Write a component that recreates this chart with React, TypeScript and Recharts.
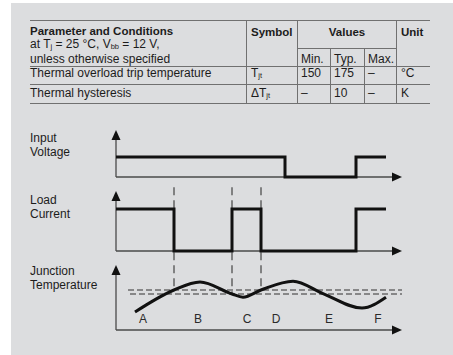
import React from 'react'
import { ComposedChart, Line, XAxis, YAxis, ReferenceLine, Scatter } from 'recharts'

// table contents
const headParam = 'Parameter and Conditions'
const headSymbol = 'Symbol'
const headValues = 'Values'
const headUnit = 'Unit'
const valueCols = ['Min.', 'Typ.', 'Max.']
const tableRows = [
  { param: 'Thermal overload trip temperature', delta: false, sub: 'jt', min: '150', typ: '175', max: '–', unit: '°C' },
  { param: 'Thermal hysteresis', delta: true, sub: 'jt', min: '–', typ: '10', max: '–', unit: 'K' },
]

// timing diagram, time in arbitrary units from the vertical axis
const inputVoltage = [
  { t: 0, v: 1 },
  { t: 169, v: 0 },
  { t: 240, v: 1 },
  { t: 270, v: 1 },
]
const loadCurrent = [
  { t: 0, v: 1 },
  { t: 58, v: 0 },
  { t: 116, v: 1 },
  { t: 145, v: 0 },
  { t: 240, v: 1 },
  { t: 270, v: 1 },
]
const junctionTemp = [
  { t: 19, temp: 120 },
  { t: 58, temp: 175 },
  { t: 84, temp: 195 },
  { t: 116, temp: 165 },
  { t: 127, temp: 157 },
  { t: 145, temp: 175 },
  { t: 177, temp: 197 },
  { t: 207, temp: 166 },
  { t: 246, temp: 130 },
  { t: 270, temp: 157 },
]
const tripTemp = 175
const hysteresis = 10
// load current switching events (time, temperature where it happens)
const switchEvents = [
  { t: 58, temp: tripTemp },
  { t: 116, temp: tripTemp - hysteresis },
  { t: 145, temp: tripTemp },
]
const phaseLabels = [
  { t: 27, label: 'A' },
  { t: 82, label: 'B' },
  { t: 131, label: 'C' },
  { t: 160, label: 'D' },
  { t: 213, label: 'E' },
  { t: 262, label: 'F' },
]
const panelLabels = [
  { lines: ['Input', 'Voltage'], y: 138 },
  { lines: ['Load', 'Current'], y: 200 },
  { lines: ['Junction', 'Temperature'], y: 271 },
]

const FONT = '"Liberation Sans", Arial, Helvetica, sans-serif'
const INK = '#1c1c1c'
const GRID = '#707070'

// y domains chosen so the three panels stack inside one plot
const vinDomain = [-7.65, 2.85]
const loadDomain = [-1.881, 3.119]
const tempDomain = [75, 600]
const X_END = 286
const DASH_TOP = 432

const Arrow = (p: any) => {
  const { x1, y1, x2, y2 } = p
  const dx = x2 - x1
  const dy = y2 - y1
  const len = Math.hypot(dx, dy) || 1
  const ux = dx / len
  const uy = dy / len
  const L = 10
  const W = 4.5
  const bx = x2 - ux * L
  const by = y2 - uy * L
  return (
    <g>
      <line x1={x1} y1={y1} x2={bx} y2={by} stroke="#4a4a4a" strokeWidth={1.3} />
      <polygon
        points={`${x2},${y2} ${bx - uy * W},${by + ux * W} ${bx + uy * W},${by - ux * W}`}
        fill="#111"
      />
    </g>
  )
}

const axes = [
  { id: 'vin', base: 0, top: 2.35 },
  { id: 'load', base: 0, top: 1.43 },
  { id: 'temp', base: 75, top: 237.5 },
]

function Txt({ x, y, children, bold, w, center }: any) {
  return (
    <div
      style={{
        position: 'absolute',
        left: center ? x - w / 2 : x,
        top: y - 6,
        width: center ? w : undefined,
        textAlign: center ? 'center' : 'left',
        lineHeight: '12px',
        fontSize: bold ? 11.5 : 12,
        fontWeight: bold ? 700 : 400,
        whiteSpace: 'nowrap',
        color: INK,
      }}
    >
      {children}
    </div>
  )
}

const Sub = ({ children }: any) => (
  <span style={{ fontSize: 7.5, lineHeight: '8px', verticalAlign: '-1px' }}>{children}</span>
)

export default function App() {
  const colX = { param: 30, symbol: 246, min: 297, typ: 330, max: 364, unit: 396, right: 430 }
  const rowY = { top: 20, sub: 48, head: 66, r1: 84, bottom: 103 }
  const rowCenters = [73, 93]

  return (
    <div
      style={{
        position: 'absolute',
        left: 0,
        top: 0,
        width: 453,
        height: 355,
        background: '#fff',
        fontFamily: FONT,
      }}
    >
      <div style={{ position: 'absolute', left: 11, top: 3, right: 0, bottom: 0, background: '#dcdddf' }} />

      <svg width={453} height={355} style={{ position: 'absolute', left: 0, top: 0 }}>
        {[rowY.top, rowY.head, rowY.r1, rowY.bottom].map((y) => (
          <line key={y} x1={colX.param} x2={colX.right} y1={y + 0.5} y2={y + 0.5} stroke={GRID} strokeWidth={1} />
        ))}
        <line x1={colX.min} x2={colX.unit} y1={rowY.sub + 0.5} y2={rowY.sub + 0.5} stroke={GRID} />
        {[colX.symbol, colX.min, colX.unit].map((x) => (
          <line key={x} x1={x + 0.5} x2={x + 0.5} y1={rowY.top} y2={rowY.bottom} stroke={GRID} />
        ))}
        {[colX.typ, colX.max].map((x) => (
          <line key={x} x1={x + 0.5} x2={x + 0.5} y1={rowY.sub} y2={rowY.bottom} stroke={GRID} />
        ))}
      </svg>

      <Txt x={30} y={31} bold>{headParam}</Txt>
      <Txt x={30} y={44}>
        at T<Sub>j</Sub> = 25 °C, V<Sub>bb</Sub> = 12 V,
      </Txt>
      <Txt x={30} y={59}>unless otherwise specified</Txt>
      <Txt x={251} y={32} bold>{headSymbol}</Txt>
      <Txt x={347} y={32} w={90} center bold>{headValues}</Txt>
      <Txt x={401} y={32} bold>{headUnit}</Txt>
      {valueCols.map((c, i) => (
        <Txt key={c} x={[301, 334, 368][i]} y={59}>{c}</Txt>
      ))}
      {tableRows.map((r, i) => (
        <React.Fragment key={r.param}>
          <Txt x={30} y={rowCenters[i]}>{r.param}</Txt>
          <Txt x={251} y={rowCenters[i]}>
            {r.delta ? 'Δ' : ''}T<Sub>{r.sub}</Sub>
          </Txt>
          <Txt x={301} y={rowCenters[i]}>{r.min}</Txt>
          <Txt x={334} y={rowCenters[i]}>{r.typ}</Txt>
          <Txt x={368} y={rowCenters[i]}>{r.max}</Txt>
          <Txt x={401} y={rowCenters[i]}>{r.unit}</Txt>
        </React.Fragment>
      ))}

      {panelLabels.map((p) =>
        p.lines.map((l, i) => (
          <Txt key={l} x={30} y={p.y + i * 14}>{l}</Txt>
        ))
      )}

      <div style={{ position: 'absolute', left: 0, top: 0 }}>
        <ComposedChart width={453} height={355} margin={{ top: 120, right: 47, bottom: 25, left: 116 }}>
          <XAxis type="number" dataKey="t" domain={[0, 290]} hide allowDataOverflow />
          <YAxis yAxisId="vin" type="number" domain={vinDomain} hide allowDataOverflow />
          <YAxis yAxisId="load" type="number" domain={loadDomain} hide allowDataOverflow />
          <YAxis yAxisId="temp" type="number" domain={tempDomain} hide allowDataOverflow />

          {axes.map((a) => (
            <ReferenceLine
              key={a.id + 'h'}
              yAxisId={a.id}
              segment={[{ x: 0, y: a.base }, { x: X_END, y: a.base }]}
              shape={Arrow}
            />
          ))}
          {axes.map((a) => (
            <ReferenceLine
              key={a.id + 'v'}
              yAxisId={a.id}
              segment={[{ x: 0, y: a.base }, { x: 0, y: a.top }]}
              shape={Arrow}
            />
          ))}

          <ReferenceLine
            yAxisId="temp"
            segment={[{ x: 12, y: tripTemp }, { x: X_END, y: tripTemp }]}
            stroke="#333"
            strokeWidth={1.2}
            strokeDasharray="6 3"
          />
          <ReferenceLine
            yAxisId="temp"
            segment={[{ x: 14, y: tripTemp - hysteresis }, { x: X_END, y: tripTemp - hysteresis }]}
            stroke="#333"
            strokeWidth={1.2}
            strokeDasharray="6 3"
          />
          {switchEvents.map((e) => (
            <ReferenceLine
              key={e.t}
              yAxisId="temp"
              segment={[{ x: e.t, y: DASH_TOP }, { x: e.t, y: e.temp }]}
              stroke="#444"
              strokeWidth={1.2}
              strokeDasharray="8 5"
            />
          ))}

          <Line
            yAxisId="vin"
            data={inputVoltage}
            dataKey="v"
            type="stepAfter"
            stroke="#111"
            strokeWidth={3}
            dot={false}
            isAnimationActive={false}
          />
          <Line
            yAxisId="load"
            data={loadCurrent}
            dataKey="v"
            type="stepAfter"
            stroke="#111"
            strokeWidth={3}
            dot={false}
            isAnimationActive={false}
          />
          <Line
            yAxisId="temp"
            data={junctionTemp}
            dataKey="temp"
            type="monotone"
            stroke="#111"
            strokeWidth={3}
            dot={false}
            isAnimationActive={false}
          />
          <Scatter
            yAxisId="temp"
            data={phaseLabels}
            dataKey={() => 102}
            isAnimationActive={false}
            shape={(p: any) => (
              <text
                x={p.cx}
                y={p.cy}
                textAnchor="middle"
                dominantBaseline="central"
                fontSize={12}
                fontFamily={FONT}
                fill="#2a2a2a"
              >
                {p.payload.label}
              </text>
            )}
          />
        </ComposedChart>
      </div>
    </div>
  )
}
